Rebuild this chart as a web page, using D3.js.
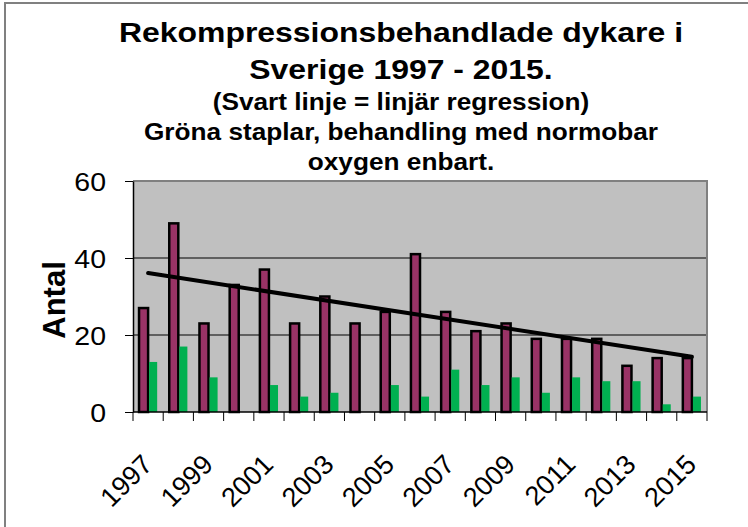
<!DOCTYPE html>
<html>
<head>
<meta charset="utf-8">
<script src="https://cdn.jsdelivr.net/npm/d3@7"></script>
<style>
	body { margin: 0; background: #fff; }
	text { font-family: "Liberation Sans", Arial, sans-serif; fill: #000; }
</style>
</head>
<body>
<script>
// data
var years = ["1997","1998","1999","2000","2001","2002","2003","2004","2005","2006",
             "2007","2008","2009","2010","2011","2012","2013","2014","2015"];
var totalDivers = [27, 49, 23, 33, 37, 23, 30, 23, 26, 41, 26, 21, 23, 19, 19, 19, 12, 14, 14];
var normobarOnly = [13, 17, 9, 0, 7, 4, 5, 0, 7, 4, 11, 7, 9, 5, 9, 8, 8, 2, 4];
var yTicks = [0, 20, 40, 60];
var xLabels = ["1997","1999","2001","2003","2005","2007","2009","2011","2013","2015"];
var titleLines = ["Rekompressionsbehandlade dykare i", "Sverige 1997 - 2015."];
var subLines = ["(Svart linje = linjär regression)", "Gröna staplar, behandling med normobar", "oxygen enbart."];

var w = 748, h = 527;
var pLeft = 133, pRight = 707, pTop = 181, pBottom = 412;
var sx = 1.14; // the original text is a bit wide

var svg = d3.select("body").append("svg")
	.attr("width", w)
	.attr("height", h);

// outer chart border (runs off the right and bottom edge)
svg.append("rect")
	.attr("x", 5).attr("y", 3)
	.attr("width", w + 10).attr("height", h + 10)
	.attr("fill", "#fff")
	.attr("stroke", "#808080")
	.attr("stroke-width", 2);

// Scales
var xScale = d3.scaleBand()
	.domain(years)
	.range([pLeft, pRight])
	.paddingInner(0.4)
	.paddingOuter(0.2);

var xSub = d3.scaleBand()
	.domain(["total", "normobar"])
	.range([0, xScale.bandwidth()]);

var yScale = d3.scaleLinear()
	.domain([0, 60])
	.range([pBottom, pTop]);

// plot area
svg.append("rect")
	.attr("x", pLeft).attr("y", pTop)
	.attr("width", pRight - pLeft).attr("height", pBottom - pTop)
	.attr("fill", "#c0c0c0");

svg.selectAll(".grid")
	.data(yTicks.filter(function(d) { return d > 0 && d < 60; }))
	.enter()
	.append("line")
	.attr("x1", pLeft).attr("x2", pRight)
	.attr("y1", function(d) { return yScale(d); })
	.attr("y2", function(d) { return yScale(d); })
	.attr("stroke", "#000")
	.attr("stroke-width", 1);

// top and right border of plot area
svg.append("path")
	.attr("d", "M" + pLeft + "," + pTop + "H" + pRight + "V" + pBottom)
	.attr("fill", "none")
	.attr("stroke", "#808080")
	.attr("stroke-width", 2);

// bars
svg.selectAll(".tot")
	.data(totalDivers)
	.enter()
	.append("rect")
	.attr("x", function(d, i) { return xScale(years[i]) + xSub("total"); })
	.attr("y", function(d) { return yScale(d); })
	.attr("width", xSub.bandwidth())
	.attr("height", function(d) { return pBottom - yScale(d); })
	.attr("fill", "#993366")
	.attr("stroke", "#000")
	.attr("stroke-width", 2.5);

svg.selectAll(".nbo")
	.data(normobarOnly)
	.enter()
	.append("rect")
	.attr("x", function(d, i) { return xScale(years[i]) + xSub("normobar") + 1; })
	.attr("y", function(d) { return yScale(d); })
	.attr("width", xSub.bandwidth() - 1)
	.attr("height", function(d) { return pBottom - yScale(d); })
	.attr("fill", "#00b050");

// linear regression of the totals
var n = totalDivers.length;
var mx = d3.mean(d3.range(n)), my = d3.mean(totalDivers);
var sxy = d3.sum(totalDivers, function(d, i) { return (i - mx) * (d - my); });
var sxx = d3.sum(d3.range(n), function(i) { return (i - mx) * (i - mx); });
var slope = sxy / sxx, icept = my - slope * mx;

svg.append("line")
	.attr("x1", xScale(years[0]) + xScale.bandwidth() / 2)
	.attr("y1", yScale(icept))
	.attr("x2", xScale(years[n - 1]) + xScale.bandwidth() / 2)
	.attr("y2", yScale(icept + slope * (n - 1)))
	.attr("stroke", "#000")
	.attr("stroke-width", 4)
	.attr("stroke-linecap", "round");

// Axis
var yAxis = d3.axisLeft(yScale).tickValues(yTicks).tickSize(8).tickSizeOuter(0);
var yg = svg.append("g")
	.attr("transform", "translate(" + pLeft + ",0)")
	.call(yAxis);
yg.select(".domain").attr("stroke", "#000").attr("stroke-width", 1.5);
yg.selectAll(".tick line").attr("stroke", "#000");
yg.selectAll(".tick text")
	.attr("x", null).attr("dy", null)
	.attr("font-size", 25)
	.attr("text-anchor", "end")
	.attr("transform", "translate(-27,9) scale(" + sx + ",1)");

var stepX = xScale.step();
var xg = svg.append("g")
	.attr("transform", "translate(0," + pBottom + ")");
xg.append("line")
	.attr("x1", pLeft).attr("x2", pRight)
	.attr("stroke", "#000").attr("stroke-width", 1.5);
xg.selectAll(".xt")
	.data(years.concat(["end"]))
	.enter()
	.append("line")
	.attr("x1", function(d, i) { return pLeft + i * stepX; })
	.attr("x2", function(d, i) { return pLeft + i * stepX; })
	.attr("y1", 0).attr("y2", 9)
	.attr("stroke", "#000");
xg.selectAll(".xl")
	.data(xLabels)
	.enter()
	.append("text")
	.attr("font-size", 27)
	.attr("text-anchor", "end")
	.attr("transform", function(d) {
		var cx = xScale(d) + xScale.bandwidth() / 2;
		return "translate(" + (cx + 6) + ",54) rotate(-45)";
	})
	.text(function(d) { return d; });

svg.append("text")
	.attr("font-size", 31)
	.attr("font-weight", "bold")
	.attr("text-anchor", "middle")
	.attr("transform", "translate(65,300) rotate(-90)")
	.text("Antal");

// Titles
svg.selectAll(".t1")
	.data(titleLines)
	.enter()
	.append("text")
	.attr("font-size", 28)
	.attr("font-weight", "bold")
	.attr("text-anchor", "middle")
	.attr("transform", function(d, i) { return "translate(401," + (42 + i * 37) + ") scale(" + sx + ",1)"; })
	.text(function(d) { return d; });

svg.selectAll(".t2")
	.data(subLines)
	.enter()
	.append("text")
	.attr("font-size", 23)
	.attr("font-weight", "bold")
	.attr("text-anchor", "middle")
	.attr("transform", function(d, i) { return "translate(401," + (110 + i * 30) + ") scale(" + sx + ",1)"; })
	.text(function(d) { return d; });
</script>
</body>
</html>
